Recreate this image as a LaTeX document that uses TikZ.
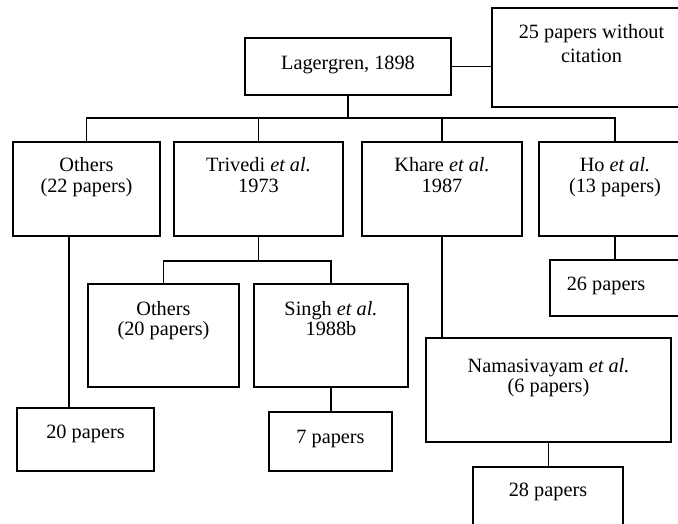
\documentclass[tikz,border=0pt]{standalone}
\usepackage{fontspec}
\setmainfont{Liberation Serif}
\newcommand{\twol}[3][0pt]{\begin{tabular}[t]{@{}c@{}}#2\\[#1]#3\end{tabular}}
\begin{document}
\begin{tikzpicture}[x=1pt,y=-1pt,
  box/.style={draw,line width=1.1pt,inner sep=0pt,outer sep=0pt,anchor=north west},
  lbl/.style={anchor=base,inner sep=0pt,font=\fontsize{20.3}{20.5}\selectfont},
  conn/.style={line width=1.1pt}]
\useasboundingbox (0,0) rectangle (678,523);
\clip (0,0) rectangle (678,523);
\fill[white] (0,0) rectangle (678,523);

% boxes
\node[box,minimum width=206pt,minimum height=57pt] (lag) at (245,38) {};
\node[box,minimum width=199pt,minimum height=99pt] (cit25) at (492,8) {};
\node[box,minimum width=147pt,minimum height=94pt] (o22) at (13,142) {};
\node[box,minimum width=169pt,minimum height=94pt] (triv) at (174,142) {};
\node[box,minimum width=160pt,minimum height=94pt] (khare) at (362,142) {};
\node[box,minimum width=152pt,minimum height=94pt] (ho) at (539,142) {};
\node[box,minimum width=140pt,minimum height=56pt] (p26) at (550,260) {};
\node[box,minimum width=151pt,minimum height=103pt] (o20) at (88,284) {};
\node[box,minimum width=154pt,minimum height=103pt] (singh) at (254,284) {};
\node[box,minimum width=137pt,minimum height=63pt] (p20) at (17,408) {};
\node[box,minimum width=123pt,minimum height=59pt] (p7) at (269,412) {};
\node[box,minimum width=245pt,minimum height=104pt] (nama) at (426,338) {};
\node[box,minimum width=150pt,minimum height=70pt] (p28) at (473,467) {};

% texts
\node[lbl] (lagt) at ([yshift=-31.3pt]lag.north) {Lagergren, 1898};
\node[lbl] (cit25t) at ([yshift=-30.3pt]cit25.north) {\twol[3.5pt]{25 papers without}{citation}};
\node[lbl] (o22t) at ([yshift=-29.5pt]o22.north) {\twol{Others}{(22 papers)}};
\node[lbl] (trivt) at ([yshift=-29.5pt]triv.north) {\twol{Trivedi \textit{et al.}}{1973}};
\node[lbl] (kharet) at ([yshift=-29.5pt]khare.north) {\twol{Khare \textit{et al.}}{1987}};
\node[lbl] (hot) at ([yshift=-29.5pt]ho.north) {\twol{Ho \textit{et al.}}{(13 papers)}};
\node[lbl] (p26t) at ([xshift=56pt,yshift=-30pt]p26.north west) {26 papers};
\node[lbl] (o20t) at ([yshift=-31pt]o20.north) {\twol{Others}{(20 papers)}};
\node[lbl] (singht) at ([yshift=-31pt]singh.north) {\twol{Singh \textit{et al.}}{1988b}};
\node[lbl] (p20t) at ([yshift=-30.3pt]p20.north) {20 papers};
\node[lbl] (p7t) at ([yshift=-31.3pt]p7.north) {7 papers};
\node[lbl] (namat) at ([yshift=-34.3pt]nama.north) {\twol{Namasivayam \textit{et al.}}{(6 papers)}};
\node[lbl] (p28t) at ([yshift=-29.7pt]p28.north) {28 papers};

% connectors
\coordinate (bus1) at ([yshift=-23pt]lag.south);
\coordinate (bus2) at ([yshift=-25pt]triv.south);
\coordinate (o22drop) at ([xshift=56pt]o22.south west);
\draw[conn] (lag.east) -- (lag.east -| cit25.west);
\draw[conn] (lag.south) -- (bus1);
\draw[conn] (o22.north) -- (o22.north |- bus1) -- (ho.north |- bus1) -- (ho.north);
\draw[conn] (triv.north) -- (triv.north |- bus1);
\draw[conn] (khare.north) -- (khare.north |- bus1);
\draw[conn] (triv.south) -- (bus2);
\draw[conn] (o20.north) -- (o20.north |- bus2) -- (singh.north |- bus2) -- (singh.north);
\draw[conn] (singh.south) -- (singh.south |- p7.north);
\draw[conn] (ho.south) -- (ho.south |- p26.north);
\draw[conn] (khare.south) -- (khare.south |- nama.north);
\draw[conn] (nama.south) -- (nama.south |- p28.north);
\draw[conn] (o22drop) -- (o22drop |- p20.north);
\end{tikzpicture}
\end{document}
